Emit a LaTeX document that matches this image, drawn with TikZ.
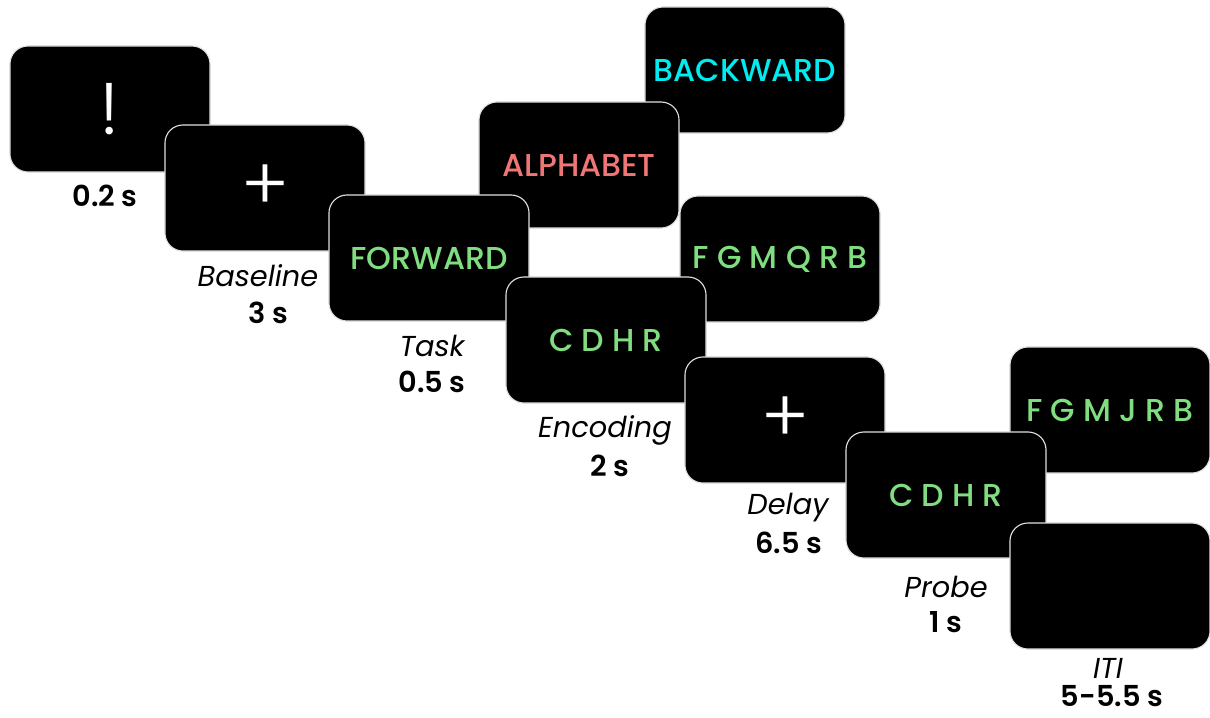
\documentclass[tikz,border=0pt]{standalone}
\usepackage{fontspec}
\setmainfont{Poppins}[BoldFont={Poppins SemiBold}]
\newfontfamily\screenfont{Poppins Medium}
\newfontfamily\thinfont{Poppins Light}
\usepackage{tikz}
\definecolor{cuegreen}{RGB}{128,222,128}
\definecolor{cuered}{RGB}{238,118,118}
\definecolor{cuecyan}{RGB}{0,236,240}
\tikzset{%
  screen/.style={rectangle, rounded corners=0.45cm, fill=black, draw=gray!25,
    line width=0.8pt, minimum width=5cm, minimum height=3.15cm,
    font=\screenfont\fontsize{22.5}{26}\selectfont},
  fixation/.style={screen, text=white, font=\thinfont\fontsize{52}{56}\selectfont},
  phase/.style={inner sep=1pt, font=\fontsize{20.5}{24}\selectfont\itshape},
  dur/.style={inner sep=1pt, font=\fontsize{20.5}{24}\selectfont\bfseries}
}

\begin{document}
\begin{tikzpicture}[x=0.025cm, y=-0.025cm]
  \useasboundingbox (0,0) rectangle (1210,717);
  \node[fixation] (alert) at (110,109) {!};
  \node[fixation] (base) at (265,188) {+};
  \node[screen, text=cuecyan] (back) at (745,70) {BACKWARD};
  \node[screen, text=cuered] (alpha) at (579,165) {ALPHABET};
  \node[screen, text=cuegreen] (fwd) at (429,258) {FORWARD};
  \node[screen, text=cuegreen] (list) at (780,259) {F G M Q R B};
  \node[screen, text=cuegreen] (enc) at (606,340) {C D H R};
  \node[fixation] (delay) at (785,420) {+};
  \node[screen, text=cuegreen] (probelist) at (1110,410) {F G M J R B};
  \node[screen, text=cuegreen] (probe) at (946,495) {C D H R};
  \node[screen] (iti) at (1110,586) {};
  % labels
  \node[dur] (t0) at (105,196) {0.2 s};
  \node[phase] (p1) at (258,276) {Baseline};
  \node[dur] (t1) at (268,313) {3 s};
  \node[phase] (p2) at (432,346) {Task};
  \node[dur] (t2) at (432,382) {0.5 s};
  \node[phase] (p3) at (605,430) {Encoding};
  \node[dur] (t3) at (610,466) {2 s};
  \node[phase] (p4) at (788,508) {Delay};
  \node[dur] (t4) at (789,543) {6.5 s};
  \node[phase] (p5) at (946,587) {Probe};
  \node[dur] (t5) at (946,622) {1 s};
  \node[phase] (p6) at (1108,668) {ITI};
  \node[dur] (t6) at (1112,696) {5-5.5 s};
\end{tikzpicture}
\end{document}
